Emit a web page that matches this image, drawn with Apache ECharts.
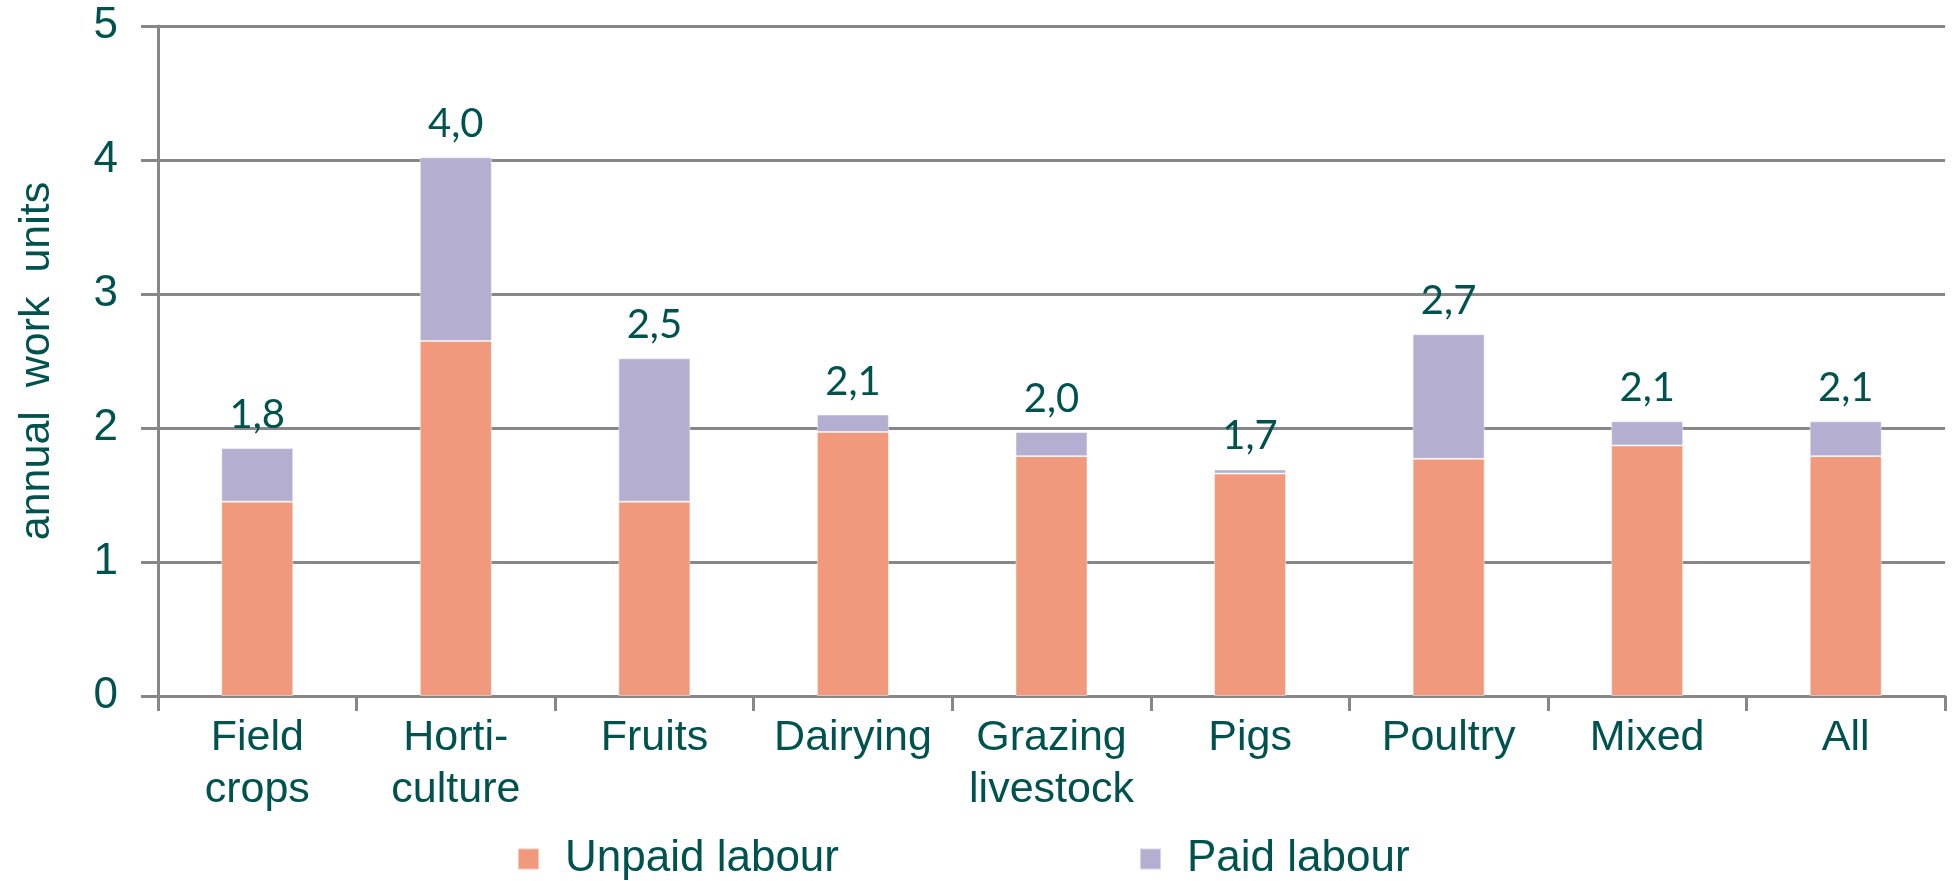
<!DOCTYPE html>
<html>
<head>
<meta charset="utf-8">
<script src="https://cdn.jsdelivr.net/npm/echarts@6/dist/echarts.min.js"></script>
<style>
html,body{margin:0;padding:0;background:#fff;}
#chart{width:1953px;height:881px;}
</style>
</head>
<body>
<div id="chart"></div>
<script>
const categories = ['Field\ncrops', 'Horti-\nculture', 'Fruits', 'Dairying', 'Grazing\nlivestock', 'Pigs', 'Poultry', 'Mixed', 'All'];
const unpaidLabour = [1.45, 2.65, 1.45, 1.97, 1.79, 1.66, 1.77, 1.87, 1.79];
const paidLabour = [0.40, 1.37, 1.07, 0.13, 0.18, 0.03, 0.93, 0.18, 0.26];
const totalLabels = ['1,8', '4,0', '2,5', '2,1', '2,0', '1,7', '2,7', '2,1', '2,1'];
const yTicks = [0, 1, 2, 3, 4, 5];

const TEXT = '#00524E';
const GRID = '#878787';
const FONT = 'Liberation Sans, Arial, sans-serif';

const legendText = { fontFamily: FONT, fontSize: 44, lineHeight: 44, color: TEXT, padding: [0, 0, 0, 21] };

const chart = echarts.init(document.getElementById('chart'));
chart.setOption({
  animation: false,
  backgroundColor: '#ffffff',
  grid: { left: 158, right: 8, top: 26, bottom: 185, containLabel: false },
  legend: [
    {
      data: ['Unpaid labour'], left: 517, top: 837, padding: 0,
      itemWidth: 21, itemHeight: 21, icon: 'rect', textStyle: legendText
    },
    {
      data: ['Paid labour'], left: 1139, top: 837, padding: 0,
      itemWidth: 21, itemHeight: 21, icon: 'rect', textStyle: legendText
    }
  ],
  xAxis: {
    type: 'category',
    data: categories,
    axisLine: { lineStyle: { color: GRID, width: 3 } },
    axisTick: { show: true, length: 15, lineStyle: { color: GRID, width: 3 } },
    axisLabel: {
      fontFamily: FONT, fontSize: 43, color: TEXT,
      lineHeight: 52, margin: 16, interval: 0
    }
  },
  yAxis: {
    type: 'value',
    min: yTicks[0], max: yTicks[yTicks.length - 1], interval: 1,
    name: 'annual  work  units',
    nameLocation: 'middle',
    nameGap: 99,
    nameTextStyle: { fontFamily: FONT, fontSize: 43, color: TEXT },
    axisLine: { show: true, lineStyle: { color: GRID, width: 3 } },
    axisTick: { show: true, length: 17, lineStyle: { color: GRID, width: 3 } },
    axisLabel: { fontFamily: FONT, fontSize: 44, color: TEXT, margin: 40 },
    splitLine: { show: true, lineStyle: { color: GRID, width: 3 } }
  },
  series: [
    {
      name: 'Unpaid labour', type: 'bar', stack: 'total', barWidth: 72,
      data: unpaidLabour,
      itemStyle: { color: '#F0997C', borderColor: 'rgba(255,255,255,0.45)', borderWidth: 1 }
    },
    {
      name: 'Paid labour', type: 'bar', stack: 'total', barWidth: 72,
      data: paidLabour,
      itemStyle: { color: '#B4AFD0', borderColor: 'rgba(255,255,255,0.45)', borderWidth: 1 },
      label: {
        show: true, position: 'top', distance: 13,
        formatter: p => totalLabels[p.dataIndex],
        fontFamily: 'Lato, Open Sans, sans-serif', fontSize: 40, lineHeight: 40, color: TEXT
      }
    }
  ]
});
</script>
</body>
</html>
